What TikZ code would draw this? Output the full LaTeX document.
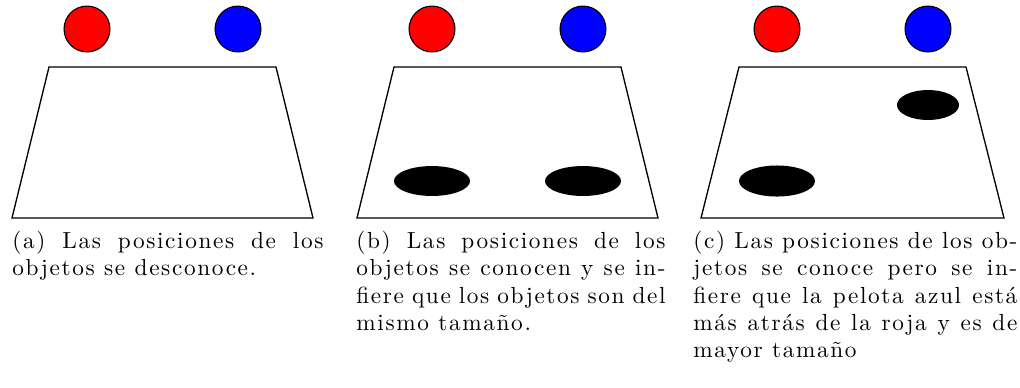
\documentclass[tikz,border=0pt]{standalone}
\usepackage{fontspec}
\setmainfont{Latin Modern Roman}[LetterSpace=7]
\usetikzlibrary{shapes.geometric}
\begin{document}
\begin{tikzpicture}[x=0.451pt,y=-0.451pt,
  ball/.style={circle,draw=black,line width=0.5pt,minimum size=20.7pt,inner sep=0pt},
  tablepath/.style={draw=black,line width=0.6pt},
  blob/.style={ellipse,fill=black,inner sep=0pt},
  caption/.style={anchor=north west,inner sep=0pt,align=justify,font=\fontsize{10.5}{12.2}\selectfont}]
\useasboundingbox (0,0) rectangle (1020,387);
% panel a
\node[ball,fill=red] (ra) at (87,29) {};
\node[ball,fill=blue] (ba) at (238,29) {};
\draw[tablepath] (49,67) -- (276,67) -- (313,218) -- (12,218) -- cycle;
\node[caption,text width=140.3pt] (ca) at (12,231) {(a) Las posiciones de los\linebreak objetos se desconoce.};
% panel b
\node[ball,fill=red] (rb) at (432,29) {};
\node[ball,fill=blue] (bb) at (583,29) {};
\draw[tablepath] (394,67) -- (621,67) -- (658,218) -- (357,218) -- cycle;
\node[blob,minimum width=34.3pt,minimum height=13.5pt] (eb1) at (432,181) {};
\node[blob,minimum width=34.3pt,minimum height=13.5pt] (eb2) at (583,181) {};
\node[caption,text width=139.4pt] (cb) at (356,231) {(b) Las posiciones de los\linebreak objetos se conocen y se in-\linebreak fiere que los objetos son del\linebreak mismo tamaño.};
% panel c
\node[ball,fill=red] (rc) at (777,29) {};
\node[ball,fill=blue] (bc) at (928,29) {};
\draw[tablepath] (739,67) -- (966,67) -- (1004,218) -- (701,218) -- cycle;
\node[blob,minimum width=34.3pt,minimum height=14pt] (ec1) at (777,181) {};
\node[blob,minimum width=28pt,minimum height=13.5pt] (ec2) at (928,105) {};
\node[caption,text width=146.1pt] (cc) at (693,231) {(c) Las posiciones de los ob-\linebreak jetos se conoce pero se in-\linebreak fiere que la pelota azul está\linebreak más atrás de la roja y es de\linebreak mayor tamaño};
\end{tikzpicture}
\end{document}
